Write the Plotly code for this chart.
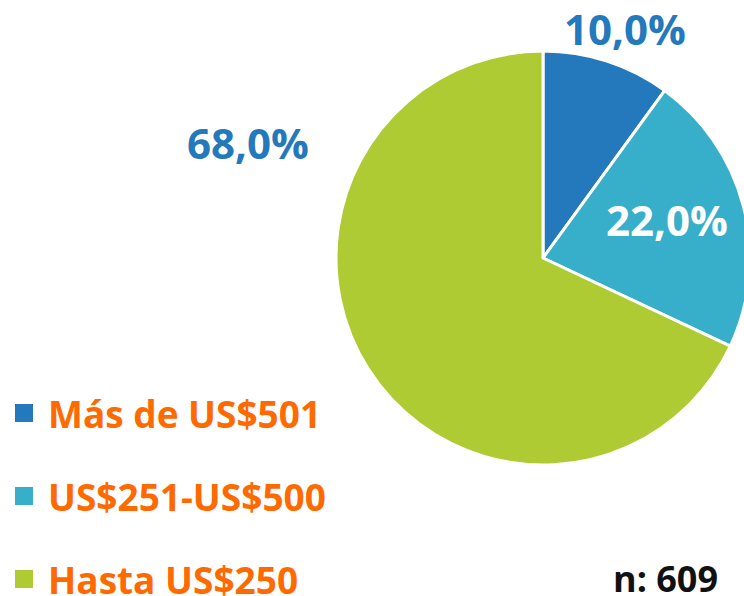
import plotly.graph_objects as go

labels = ["Más de US$501", "US$251-US$500", "Hasta US$250"]
values = [10.0, 22.0, 68.0]
colors = ["#2479BD", "#37AECA", "#AECB33"]
label_colors = ["#2479BD", "#FFFFFF", "#2479BD"]
n_text = "n: 609"

W, H = 752, 596   # slightly wider than the window: the pie is cropped at the right edge
FONT = "Open Sans"

def px(x):
    return x / W

def py(y):
    return 1 - y / H

CX, CY, R = 543, 258, 207
fig = go.Figure(go.Pie(
    labels=labels, values=values, sort=False, direction="clockwise", rotation=0,
    marker=dict(colors=colors, line=dict(color="white", width=3)),
    textinfo="none", hoverinfo="label+percent", showlegend=False,
    domain=dict(x=[px(CX - R), min(1.0, px(CX + R))], y=[py(CY + R), py(CY - R)]),
))

def fmt(v):
    return f"{v:.1f}%".replace(".", ",")

label_pos = [(625, 29), (667, 219), (248, 143)]
ann = []
for v, c, (lx, ly) in zip(values, label_colors, label_pos):
    ann.append(dict(x=px(lx), y=py(ly), xref="paper", yref="paper", text=f"<b>{fmt(v)}</b>",
                    showarrow=False, xanchor="center", yanchor="middle",
                    font=dict(family=FONT, size=42, color=c)))

shapes = []
rows_y = [413, 496, 579]
for lab, col, ry in zip(labels, colors, rows_y):
    shapes.append(dict(type="rect", xref="paper", yref="paper",
                       x0=px(15), x1=px(33), y0=py(ry - 9), y1=py(ry + 9),
                       fillcolor=col, line=dict(width=0)))
    ann.append(dict(x=px(46), y=py(ry), xref="paper", yref="paper", text=f"<b>{lab}</b>",
                    showarrow=False, xanchor="left", yanchor="middle",
                    font=dict(family=FONT, size=37, color="#FF6A00")))

ann.append(dict(x=px(720), y=py(578), xref="paper", yref="paper", text=f"<b>{n_text}</b>",
                showarrow=False, xanchor="right", yanchor="middle",
                font=dict(family=FONT, size=36, color="#111111")))

fig.update_layout(width=W, height=H, margin=dict(l=0, r=0, t=0, b=0),
                  paper_bgcolor="white", plot_bgcolor="white",
                  annotations=ann, shapes=shapes, showlegend=False)

fig.write_html(
    "out.html",
    config={"displayModeBar": False},
    post_script=("document.body.style.margin='0';"
                 "document.body.style.overflow='hidden';"
                 "document.documentElement.style.overflow='hidden';"),
)
